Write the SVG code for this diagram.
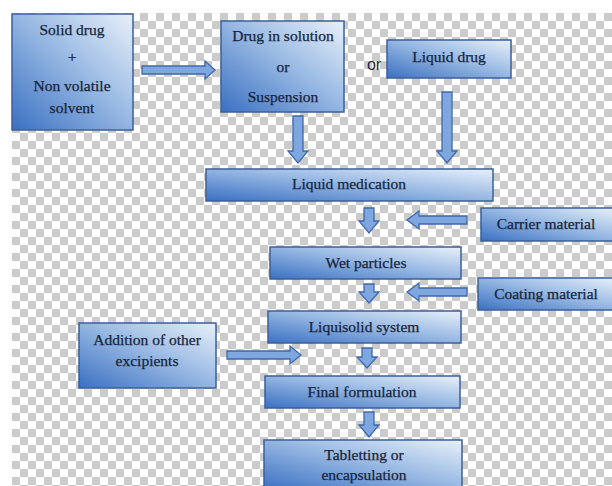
<svg xmlns="http://www.w3.org/2000/svg" width="612" height="486" viewBox="0 0 612 486">
<defs>
<pattern id="chk" x="12" y="13" width="16" height="16" patternUnits="userSpaceOnUse">
<rect width="16" height="16" fill="#ffffff"/>
<rect width="8" height="8" fill="#cbcbcb"/>
<rect x="8" y="8" width="8" height="8" fill="#cbcbcb"/>
</pattern>
<linearGradient id="bg" x1="0" y1="1" x2="1" y2="0">
<stop offset="0" stop-color="#3a70c2"/>
<stop offset="0.55" stop-color="#9bbbe4"/>
<stop offset="1" stop-color="#e8f0fa"/>
</linearGradient>
</defs>
<style>
.box{fill:url(#bg);stroke:#3d5f99;stroke-width:1.5}
.arr{fill:#7fa7df;stroke:#3f68aa;stroke-width:1.3}
.t{font-family:"Liberation Serif","Times New Roman",serif;font-size:15.5px;fill:#17243a;stroke:#17243a;stroke-width:0.25;text-anchor:middle}
.s{font-family:"Liberation Sans",Arial,sans-serif;font-size:16px;fill:#17243a;text-anchor:middle}
</style>
<rect x="0" y="0" width="612" height="486" fill="#ffffff"/>
<rect x="12" y="13" width="600" height="473" fill="url(#chk)"/>

<g id="connectors">
<polygon class="arr" points="142,66 205,66 205,61 215,70 205,79 205,74 142,74"/>
<polygon class="arr" points="293,116 303,116 303,151 308,151 298,163 288,151 293,151"/>
<polygon class="arr" points="442,92 452,92 452,151 457,151 447,163 437,151 442,151"/>
<polygon class="arr" points="364,208 374,208 374,221 379,221 369,233 359,221 364,221"/>
<polygon class="arr" points="467,216 419,216 419,211 407,220 419,229 419,224 467,224"/>
<polygon class="arr" points="364,284 374,284 374,292 379,292 369,303 359,292 364,292"/>
<polygon class="arr" points="467,288 419,288 419,283 407,292 419,301 419,296 467,296"/>
<polygon class="arr" points="227,351 290,351 290,346 301,355 290,364 290,359 227,359"/>
<polygon class="arr" points="362,348 372,348 372,357 377,357 367,368 357,357 362,357"/>
<polygon class="arr" points="364,412 374,412 374,425 379,425 369,437 359,425 364,425"/>
</g>

<g id="n-solid">
<rect class="box" x="12" y="14" width="121" height="116"/>
<text class="t" x="72" y="35">Solid drug</text>
<text class="t" x="72" y="62">+</text>
<text class="t" x="72" y="91">Non volatile</text>
<text class="t" x="72" y="113">solvent</text>
</g>
<g id="n-solution">
<rect class="box" x="221" y="21" width="123" height="91"/>
<text class="t" x="283" y="41">Drug in solution</text>
<text class="t" x="283" y="72">or</text>
<text class="t" x="283" y="102">Suspension</text>
</g>
<text class="s" x="374" y="70">or</text>
<g id="n-liquid">
<rect class="box" x="387" y="40" width="124" height="38"/>
<text class="t" x="449" y="62">Liquid drug</text>
</g>
<g id="n-medication">
<rect class="box" x="206" y="169" width="287" height="32"/>
<text class="t" x="349" y="189">Liquid medication</text>
</g>
<g id="n-carrier">
<rect class="box" x="481" y="208" width="135" height="33"/>
<text class="t" x="546" y="229">Carrier  material</text>
</g>
<g id="n-wet">
<rect class="box" x="270" y="247" width="191" height="32"/>
<text class="t" x="366" y="268">Wet particles</text>
</g>
<g id="n-coating">
<rect class="box" x="478" y="278" width="138" height="32"/>
<text class="t" x="546" y="299">Coating material</text>
</g>
<g id="n-liquisolid">
<rect class="box" x="268" y="311" width="193" height="32"/>
<text class="t" x="364" y="332">Liquisolid system</text>
</g>
<g id="n-excipients">
<rect class="box" x="79" y="323" width="137" height="65"/>
<text class="t" x="147" y="345">Addition of other</text>
<text class="t" x="147" y="366">excipients</text>
</g>
<g id="n-final">
<rect class="box" x="265" y="376" width="195" height="32"/>
<text class="t" x="362" y="397">Final formulation</text>
</g>
<g id="n-tablet">
<rect class="box" x="264" y="440" width="198" height="50"/>
<text class="t" x="364" y="460">Tabletting  or</text>
<text class="t" x="364" y="480">encapsulation</text>
</g>
</svg>
